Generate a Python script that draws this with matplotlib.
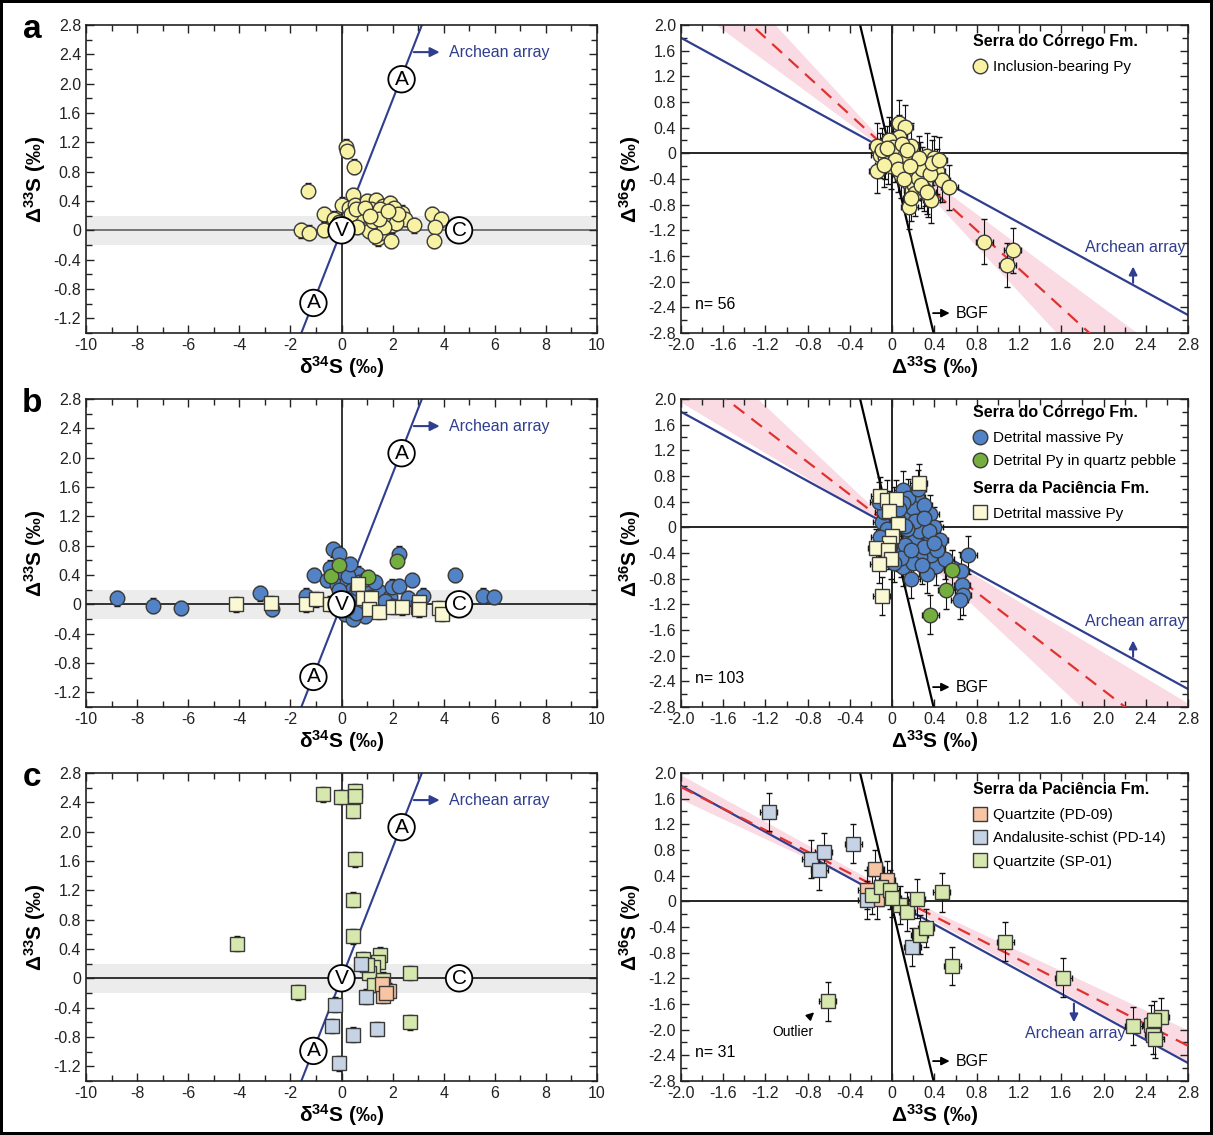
import numpy as np
import matplotlib
matplotlib.use('Agg')
import matplotlib.pyplot as plt
from matplotlib.ticker import MultipleLocator, FuncFormatter

plt.rcParams['font.family'] = ['Liberation Sans', 'DejaVu Sans']
plt.rcParams['mathtext.default'] = 'regular'

# ---------------- data ----------------
# panel a : Serra do Corrego, inclusion-bearing pyrite
d34_a = [-1.6, -1.26, -1.3, -0.7, -0.7, -0.3, 0.0, 0.18, 0.2, 0.5, 0.46, 0.3, 0.52, 0.65,
         0.78, 1.0, 0.96, 0.85, 1.34, 1.34, 1.37, 1.42, 1.52, 1.63, 1.9, 1.95, 1.98, 1.93,
         2.36, 2.48, 2.85, 3.53, 3.88, 3.64, 3.6, 1.14, 1.67, 1.75, 1.14, 1.07, 0.7, 2.05,
         1.52, 2.13, 1.22, 1.67, 0.38, 0.56, 1.3, 0.9, 2.2, 1.45, 1.83, 0.62, 1.1, -0.1]
D33_a = [0.0, -0.03, 0.54, 0.22, 0.01, 0.16, 0.35, 1.14, 1.08, 0.87, 0.48, 0.31, 0.35, 0.15,
         0.26, 0.4, 0.15, 0.06, 0.41, 0.22, -0.01, -0.11, -0.04, 0.33, 0.37, 0.17, 0.07, -0.14,
         0.24, 0.16, 0.07, 0.22, 0.15, 0.05, -0.14, 0.29, 0.22, 0.1, 0.06, -0.01, 0.2, 0.31,
         0.29, 0.1, 0.13, 0.04, 0.22, 0.29, -0.08, 0.31, 0.22, 0.15, 0.26, 0.05, 0.2, 0.12]
D33_a_r = [0.06, 0.12, 0.06, -0.03, -0.14, 0.18, 0.01, -0.12, 0.06, 0.07, -0.04, -0.14, -0.01,
           0.08, 0.14, 0.15, 0.19, 0.21, 0.16, 0.26, 0.33, 0.40, 0.42, 0.31, 0.34, 0.37, 0.47,
           0.54, 0.87, 1.14, 1.09, -0.07, -0.1, 0.02, 0.1, 0.12, 0.03, 0.2, 0.24, 0.28, 0.22,
           0.3, 0.36, 0.38, 0.05, -0.08, 0.11, 0.18, 0.27, 0.33, 0.09, 0.14, -0.05, 0.25, 0.44, 0.17]
D36_a_r = [0.48, 0.41, 0.25, 0.21, 0.12, 0.12, 0.10, -0.03, 0.03, -0.06, -0.13, -0.27, -0.2,
           -0.34, -0.27, -0.44, -0.57, -0.49, -0.83, -0.18, -0.04, -0.08, -0.28, -0.47, -0.65,
           -0.73, -0.41, -0.53, -1.38, -1.51, -1.74, -0.05, 0.05, 0.0, -0.12, -0.02, -0.1, -0.3,
           -0.38, -0.25, -0.62, -0.55, -0.33, -0.15, -0.25, -0.18, -0.4, -0.7, -0.5, -0.6, 0.15,
           0.05, 0.08, -0.08, -0.1, -0.2]

# panel b : detrital pyrite
d34_b_blue = [-8.8, -7.37, -6.29, -3.19, -2.71, -1.4, -1.08, -0.35, -0.08, -0.58, -0.19, 0.0,
              0.66, 0.79, 0.59, 0.85, 1.25, 1.51, 1.9, 1.96, 2.25, 2.26, 2.75, 2.61, 3.2, 4.44,
              5.55, 5.98, 0.2, 0.4, 0.3, 0.5, 0.15, 0.9, 0.7, 1.0, 0.45, 0.3, 0.6, 1.1, 0.05,
              0.25, 1.4, 0.8, -0.1, 0.55, 1.7, 2.0, 0.35, 0.2, 0.95, -0.45, 1.3]
D33_b_blue = [0.08, -0.02, -0.05, 0.15, -0.06, 0.12, 0.40, 0.75, 0.69, 0.33, 0.26, 0.44,
              0.42, 0.15, -0.04, -0.1, 0.05, 0.17, 0.1, 0.24, 0.25, 0.69, 0.33, 0.08, 0.12, 0.40,
              0.12, 0.10, 0.3, 0.2, 0.05, 0.12, -0.13, -0.16, 0.3, 0.25, -0.2, -0.08, 0.22, 0.1,
              0.1, 0.38, 0.0, 0.02, 0.2, -0.12, 0.05, -0.02, 0.55, -0.05, 0.35, 0.5, 0.3]
d34_b_green = [-0.42, -0.08, 1.05, 2.16]
D33_b_green = [0.39, 0.53, 0.37, 0.59]
d34_b_sq = [-4.14, -2.76, -1.4, -1.0, -0.45, 0.63, 0.83, 1.14, 1.09, 1.48, 2.0, 2.38, 3.0,
            3.03, 3.03, 3.83, 3.95]
D33_b_sq = [0.0, 0.02, 0.0, 0.07, 0.01, 0.28, 0.08, 0.08, -0.07, -0.1, -0.03, -0.04, -0.03,
            0.03, -0.07, -0.05, -0.13]

D33_b_blue_r = [0.1, 0.23, 0.36, 0.72, 0.65, 0.66, 0.67, 0.64, 0.41, 0.4, 0.29, 0.36, 0.17,
                0.1, 0.37, 0.26, 0.16, 0.05, 0.21, 0.13, 0.08, -0.1, -0.08, -0.13, 0.02, 0.2,
                0.3, 0.25, 0.12, 0.0, -0.05, 0.3, 0.45, 0.2, 0.08, 0.15, 0.05, -0.02, 0.33, 0.18,
                0.22, 0.1, 0.28, 0.5, 0.42, 0.14, 0.02, 0.24, 0.06, 0.35, 0.3, -0.12, 0.12, 0.18, 0.4]
D36_b_blue_r = [0.58, 0.47, 0.21, -0.43, -0.68, -0.9, -1.06, -1.13, -0.6, 0.01, 0.05, -0.14,
                -0.14, -0.62, -0.43, -0.46, -0.4, -0.38, -0.22, 0.2, 0.05, 0.08, 0.24, 0.4, 0.33,
                0.3, 0.35, -0.05, -0.28, -0.1, -0.02, -0.3, -0.2, -0.55, -0.48, 0.45, 0.12, -0.3,
                -0.72, -0.8, 0.1, 0.38, -0.58, -0.5, -0.35, -0.02, -0.55, 0.6, 0.28, -0.05, 0.15,
                -0.15, 0.02, -0.35, -0.25]
D33_b_green_r = [0.57, 0.51, 0.36]
D36_b_green_r = [-0.66, -0.97, -1.36]
D33_b_sq_r = [0.25, -0.12, -0.05, 0.04, -0.03, 0.05, 0.0, -0.03, -0.15, -0.04, -0.01, -0.13, -0.1]
D36_b_sq_r = [0.69, 0.48, 0.43, 0.44, 0.26, 0.05, -0.14, -0.25, -0.33, -0.35, -0.5, -0.57, -1.07]

# panel c : Serra da Paciencia
d34_c_pd09 = [1.64, 1.86, 1.6, 1.75]
D33_c_pd09 = [-0.24, -0.17, -0.08, -0.2]
d34_c_pd14 = [0.76, -0.26, -0.38, 0.43, 1.37, -0.08, 0.94]
D33_c_pd14 = [0.2, -0.36, -0.65, -0.77, -0.69, -1.16, -0.25]
d34_c_sp01 = [-0.72, -0.03, 0.53, 0.53, 0.46, 0.53, 0.43, 0.43, -4.11, 0.84, 1.52, 1.42, 1.22,
              1.07, 1.63, 1.26, 2.69, -1.72, 2.69, 1.0]
D33_c_sp01 = [2.51, 2.47, 2.55, 2.48, 2.28, 1.62, 1.07, 0.57, 0.47, 0.26, 0.32, 0.22, 0.16,
              0.07, -0.02, -0.09, 0.07, -0.19, -0.6, 0.18]

D33_c_pd09_r = [-0.16, -0.05, -0.24, -0.14]
D36_c_pd09_r = [0.5, 0.33, 0.18, 0.03]
D33_c_pd14_r = [-1.17, -0.77, -0.65, -0.69, -0.37, -0.24, 0.19]
D36_c_pd14_r = [1.39, 0.66, 0.77, 0.48, 0.9, 0.02, -0.71]
D33_c_sp01_r = [-0.19, -0.11, -0.02, 0.07, 0.14, 0.23, 0.26, 0.32, 0.47, 0.57, 1.07, 1.62,
                -0.61, 2.28, 2.45, 2.54, 2.47, 2.49, 2.48, 0.0]
D36_c_sp01_r = [0.1, 0.22, 0.18, -0.06, -0.16, 0.04, -0.52, -0.42, 0.14, -1.01, -0.63, -1.19,
                -1.56, -1.94, -1.92, -1.81, -2.08, -2.14, -1.85, 0.05]

# reference arrays
archean_33_34 = 0.89      # D33S / d34S
archean_36_33 = -0.9      # D36S / D33S
bgf_slope = -6.9
fit_slope = [-1.5, -1.27, -0.84]
fit_icpt = [0.0, 0.0, 0.1]
band_w0 = [0.03, 0.03, 0.05]
band_k = [0.28, 0.28, 0.07]
n_labels = ['n= 56', 'n= 103', 'n= 31']

# ---------------- styling ----------------
NAVY = '#2f3e8e'
RED = '#e0332f'
PINK = '#f9cfdc'
YEL = '#f8f2a4'
BLUE = '#5283c6'
GREEN = '#74ae3f'
CREAM = '#fbf9d4'
PEACH = '#f7c5a4'
GBLUE = '#c5d3e4'
LGREEN = '#d6e8ae'
EDGE = '#3a3a3a'

fig = plt.figure(figsize=(12.13, 11.35), dpi=100)
fig.patch.set_edgecolor('black')
fig.patch.set_linewidth(3)

rows_bottom = [0.7066, 0.3771, 0.0476]
H = 0.2714
axL = [fig.add_axes([0.0709, b, 0.4213, H]) for b in rows_bottom]
axR = [fig.add_axes([0.5614, b, 0.418, H]) for b in rows_bottom]

fmt1 = FuncFormatter(lambda v, p: '0' if abs(v) < 1e-9 else f'{v:.1f}')
fmt0 = FuncFormatter(lambda v, p: f'{v:.0f}')


def style(ax, xmaj, xmin, xfmt):
    ax.xaxis.set_major_locator(MultipleLocator(xmaj))
    ax.xaxis.set_minor_locator(MultipleLocator(xmin))
    ax.yaxis.set_major_locator(MultipleLocator(0.4))
    ax.yaxis.set_minor_locator(MultipleLocator(0.2))
    ax.xaxis.set_major_formatter(xfmt)
    ax.yaxis.set_major_formatter(fmt1)
    ax.tick_params(which='both', direction='in', top=True, right=True, labelsize=11.5,
                   width=1, colors='#222222')
    ax.tick_params(which='major', length=6)
    ax.tick_params(which='minor', length=4)
    for s in ax.spines.values():
        s.set_linewidth(1.2)
        s.set_color('#222222')


def errpts(ax, x, y, yerr, fc, marker, ms, xerr=None):
    eb = ax.errorbar(x, y, yerr=yerr, xerr=xerr, fmt=marker, ms=ms, mfc=fc, mec=EDGE,
                     mew=1.0, ecolor='#111111', elinewidth=0.8, capsize=2, capthick=0.8,
                     zorder=4)
    return eb[0]


def circle_lbl(ax, x, y, s):
    ax.text(x, y, s, ha='center', va='center', fontsize=15, zorder=6,
            bbox=dict(boxstyle='circle,pad=0.18', fc='white', ec='black', lw=1.3))


# ---------------- left panels ----------------
left_sets = [
    [(d34_a, D33_a, YEL, 'o', 10.5)],
    [(d34_b_blue, D33_b_blue, BLUE, 'o', 10.5), (d34_b_green, D33_b_green, GREEN, 'o', 10.5),
     (d34_b_sq, D33_b_sq, CREAM, 's', 10)],
    [(d34_c_sp01, D33_c_sp01, LGREEN, 's', 9.5), (d34_c_pd14, D33_c_pd14, GBLUE, 's', 9.5),
     (d34_c_pd09, D33_c_pd09, PEACH, 's', 9.5)],
]
for i, ax in enumerate(axL):
    ax.set_xlim(-10, 10)
    ax.set_ylim(-1.4, 2.8)
    style(ax, 2, 1, fmt0)
    ax.axhspan(-0.2, 0.2, color='#ececec', zorder=0, lw=0)
    ax.axhline(0, color='#555555' if i == 0 else 'black', lw=1.1, zorder=1)
    ax.axvline(0, color='black', lw=1.1, zorder=1)
    xs = np.array([-3.0, 4.0])
    ax.plot(xs, archean_33_34 * xs, color=NAVY, lw=1.5, zorder=2)
    ax.annotate('', xy=(3.95, 2.43), xytext=(2.72, 2.43),
                arrowprops=dict(arrowstyle='-|>', color=NAVY, lw=1.5, mutation_scale=14))
    ax.text(4.2, 2.43, 'Archean array', color=NAVY, fontsize=11.5, va='center')
    for x, y, c, m, ms in left_sets[i]:
        errpts(ax, x, y, 0.1, c, m, ms)
    circle_lbl(ax, 2.35, 2.06, 'A')
    circle_lbl(ax, -1.1, -0.99, 'A')
    circle_lbl(ax, 0.0, 0.0, 'V')
    circle_lbl(ax, 4.6, 0.0, 'C')
    ax.set_xlabel(r'$\delta^{34}$S (‰)', fontsize=15, fontweight='bold', labelpad=1)
    ax.set_ylabel(r'$\Delta^{33}$S (‰)', fontsize=15, fontweight='bold', labelpad=4)

# ---------------- right panels ----------------
right_sets = [
    [(D33_a_r, D36_a_r, YEL, 'o', 10.5, 0.35, 'Inclusion-bearing Py')],
    [(D33_b_blue_r, D36_b_blue_r, BLUE, 'o', 10.5, 0.3, 'Detrital massive Py'),
     (D33_b_green_r, D36_b_green_r, GREEN, 'o', 10.5, 0.3, 'Detrital Py in quartz pebble'),
     (D33_b_sq_r, D36_b_sq_r, CREAM, 's', 10, 0.3, 'Detrital massive Py')],
    [(D33_c_pd09_r, D36_c_pd09_r, PEACH, 's', 10, 0.3, 'Quartzite (PD-09)'),
     (D33_c_pd14_r, D36_c_pd14_r, GBLUE, 's', 10, 0.3, 'Andalusite-schist (PD-14)'),
     (D33_c_sp01_r, D36_c_sp01_r, LGREEN, 's', 10, 0.3, 'Quartzite (SP-01)')],
]
xx = np.linspace(-2.0, 2.8, 200)
handles_r = []
for i, ax in enumerate(axR):
    ax.set_xlim(-2.0, 2.8)
    ax.set_ylim(-2.8, 2.0)
    style(ax, 0.4, 0.2, fmt1)
    ax.axhline(0, color='black', lw=1.2, zorder=1)
    ax.axvline(0, color='black', lw=1.2, zorder=1)
    # regression band + fit
    yfit = fit_slope[i] * xx + fit_icpt[i]
    w = band_w0[i] + band_k[i] * np.abs(xx)
    ax.fill_between(xx, yfit - w, yfit + w, color=PINK, alpha=0.75, lw=0, zorder=0)
    ax.plot(xx, archean_36_33 * xx, color=NAVY, lw=1.6, zorder=2)
    ax.plot(xx, yfit, color=RED, lw=1.6, ls=(0, (6, 4)), zorder=3)
    xb = np.array([-0.35, 0.45])
    ax.plot(xb, bgf_slope * xb - 0.1, color='black', lw=1.6, zorder=2)
    ax.annotate('', xy=(0.57, -2.49), xytext=(0.36, -2.49),
                arrowprops=dict(arrowstyle='-|>', color='black', lw=1.3, mutation_scale=12))
    ax.text(0.6, -2.49, 'BGF', fontsize=11.5, va='center')
    ax.text(-1.87, -2.35, n_labels[i], fontsize=11.5, va='center')

    hs = []
    for x, y, c, m, ms, ye, lab in right_sets[i]:
        h = errpts(ax, x, y, ye, c, m, ms, xerr=0.08)
        hs.append((h, lab))
    handles_r.append(hs)

    ax.set_xlabel(r'$\Delta^{33}$S (‰)', fontsize=15, fontweight='bold', labelpad=1)
    ax.set_ylabel(r'$\Delta^{36}$S (‰)', fontsize=15, fontweight='bold', labelpad=4)

leg_kw = dict(loc='upper left', frameon=False, alignment='left', fontsize=11,
              handletextpad=0.35, handlelength=1.0, labelspacing=0.6, borderpad=0,
              borderaxespad=0, title_fontproperties={'weight': 'bold', 'size': 11.5})


def add_leg(ax, items, title, anchor):
    lg = ax.legend([h for h, _ in items], [l for _, l in items], title=title,
                   bbox_to_anchor=anchor, **leg_kw)
    lg._legend_box.sep = 8
    return lg


# a
add_leg(axR[0], handles_r[0], 'Serra do Córrego Fm.', (0.575, 0.97))
axR[0].annotate('', xy=(2.28, -1.72), xytext=(2.28, -2.06),
                arrowprops=dict(arrowstyle='-|>', color=NAVY, lw=1.5, mutation_scale=12))
axR[0].text(2.78, -1.47, 'Archean array', color=NAVY, fontsize=11.5, va='center', ha='right')

# b
leg1 = add_leg(axR[1], handles_r[1][:2], 'Serra do Córrego Fm.', (0.575, 0.98))
axR[1].add_artist(leg1)
add_leg(axR[1], handles_r[1][2:], 'Serra da Paciência Fm.', (0.575, 0.735))
axR[1].annotate('', xy=(2.28, -1.72), xytext=(2.28, -2.06),
                arrowprops=dict(arrowstyle='-|>', color=NAVY, lw=1.5, mutation_scale=12))
axR[1].text(2.78, -1.47, 'Archean array', color=NAVY, fontsize=11.5, va='center', ha='right')

# c
add_leg(axR[2], handles_r[2], 'Serra da Paciência Fm.', (0.575, 0.97))
axR[2].annotate('', xy=(1.72, -1.93), xytext=(1.72, -1.55),
                arrowprops=dict(arrowstyle='-|>', color=NAVY, lw=1.5, mutation_scale=12))
axR[2].text(1.73, -2.06, 'Archean array', color=NAVY, fontsize=11.5, va='center', ha='center')
axR[2].annotate('Outlier', xy=(-0.72, -1.7), xytext=(-0.94, -2.04), fontsize=10,
                ha='center', va='center',
                arrowprops=dict(arrowstyle='-|>', color='black', lw=1.2, mutation_scale=11,
                                shrinkA=6))

for ax, lab in zip(axL, ['a', 'b', 'c']):
    ax.text(-0.105, 0.985, lab, transform=ax.transAxes, fontsize=24, fontweight='bold',
            ha='center', va='center')

fig.savefig('out.png', dpi=100, edgecolor=fig.get_edgecolor())
